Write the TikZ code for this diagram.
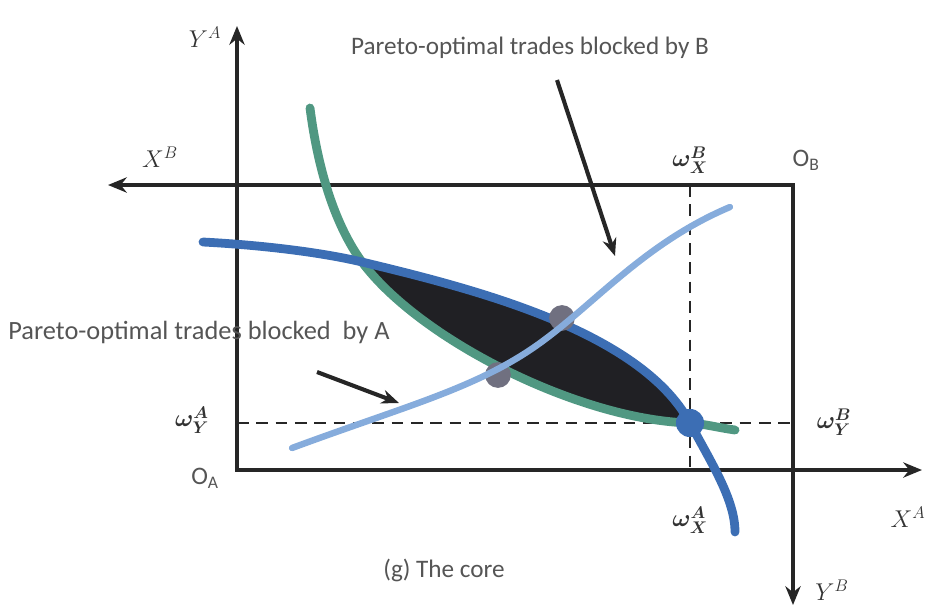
\documentclass[tikz,border=0pt]{standalone}
\usepackage{amsmath}
\usepackage{bm}
\usepackage{fontspec}
\setmainfont{Carlito}
\usepackage{xcolor}
\usepackage{tikz}
\usetikzlibrary{arrows.meta,positioning}
\definecolor{indiffgreen}{RGB}{80,152,130}
\definecolor{indiffblue}{RGB}{60,110,180}
\definecolor{contractblue}{RGB}{134,172,220}
\definecolor{blockgray}{RGB}{112,112,128}
\definecolor{coreblack}{RGB}{32,32,36}
\definecolor{labelgray}{RGB}{85,85,85}

\begin{document}
\begin{tikzpicture}[
  x=0.03cm, y=-0.03cm,
  every node/.style={font=\fontsize{21.5}{24}\selectfont, text=labelgray},
  mathlabel/.style={font=\fontsize{21}{24}\selectfont, text=black!80},
  axis/.style={line width=4pt, draw=black!85, line join=miter, {Stealth[length=16pt, width=13pt]}-{Stealth[length=16pt, width=13pt]}},
  guide/.style={line width=1.9pt, draw=black!85, dash pattern=on 10pt off 6.5pt},
  curve/.style={line width=7.5pt, line cap=round},
  pointer/.style={line width=3.5pt, draw=black!85, -{Stealth[length=15pt, width=12pt]}},
  spot/.style={circle, inner sep=0pt, minimum size=22pt},
]
  \useasboundingbox (0,0) rectangle (929,607);

  % Corners and axis ends
  \coordinate (OA) at (237,470);
  \coordinate (OB) at (793,185);
  \coordinate (yaend) at (237,26);
  \coordinate (xaend) at (922,470);
  \coordinate (xbend) at (108,185);
  \coordinate (ybend) at (793,605);

  % Endowment and curve crossings
  \coordinate (endow) at (690,423);
  \coordinate (lensleft) at (362,262);
  \coordinate (blockbyA) at (498,375);
  \coordinate (blockbyB) at (562,318);

  % Endowment guides
  \draw[guide] (690,185) -- (690,470);
  \draw[guide] (237,423) -- (793,423);

  % Axes of the box
  \draw[axis] (yaend) -- (OA) -- (xaend);
  \draw[axis] (xbend) -- (OB) -- (ybend);

  % The core
  \fill[coreblack] (lensleft) .. controls (420,340) and (580,420) .. (endow)
    .. controls (640,330) and (470,288) .. (lensleft) -- cycle;

  % Indifference curves
  \draw[curve, indiffgreen] (310,108) .. controls (318,170) and (335,225) .. (lensleft)
    .. controls (420,340) and (580,420) .. (endow)
    .. controls (705,424) and (720,428) .. (735,430);
  \draw[curve, indiffblue] (203,242) .. controls (260,245) and (320,252) .. (lensleft)
    .. controls (470,288) and (640,330) .. (endow)
    .. controls (712,464) and (735,500) .. (735,532);

  % Blocked points
  \node[spot, fill=blockgray] (dotA) at (blockbyA) {};
  \node[spot, fill=blockgray] (dotB) at (blockbyB) {};

  % Contract curve
  \draw[curve, line width=5.5pt, contractblue] (292,448) .. controls (400,408) and (470,390) .. (530,350)
    .. controls (590,310) and (640,245) .. (730,207);

  % Endowment point
  \node[spot, minimum size=24pt, fill=indiffblue] (wpoint) at (endow) {};

  % Labels
  \node[mathlabel] (ya) at (205,37) {$Y^A$};
  \node[mathlabel] (xb) at (160,157) {$X^B$};
  \node[mathlabel] (wxb) at (690,160) {$\bm{\omega_X^B}$};
  \node (ob) at (806,160) {O\textsubscript{B}};
  \node[mathlabel] (wya) at (192,420) {$\bm{\omega_Y^A}$};
  \node (oa) at (205,478) {O\textsubscript{A}};
  \node[mathlabel] (wyb) at (834,422) {$\bm{\omega_Y^B}$};
  \node[mathlabel] (wxa) at (690,520) {$\bm{\omega_X^A}$};
  \node[mathlabel] (xa) at (908,517) {$X^A$};
  \node[mathlabel] (yb) at (832,590) {$Y^B$};
  \node (caption) at (444,570) {(g) The core};

  % Annotations
  \node (blockedB) at (530,48) {Pareto-optimal trades blocked by B};
  \node[font=\fontsize{22.5}{25}\selectfont] (blockedA) at (199,332) {Pareto-optimal trades blocked\ \ by A};
  \coordinate (tailB) at (557,80);
  \coordinate (tipB) at (615,256);
  \coordinate (tailA) at (317,372);
  \coordinate (tipA) at (399,403);
  \draw[pointer] (tailB) -- (tipB);
  \draw[pointer] (tailA) -- (tipA);
\end{tikzpicture}
\end{document}
